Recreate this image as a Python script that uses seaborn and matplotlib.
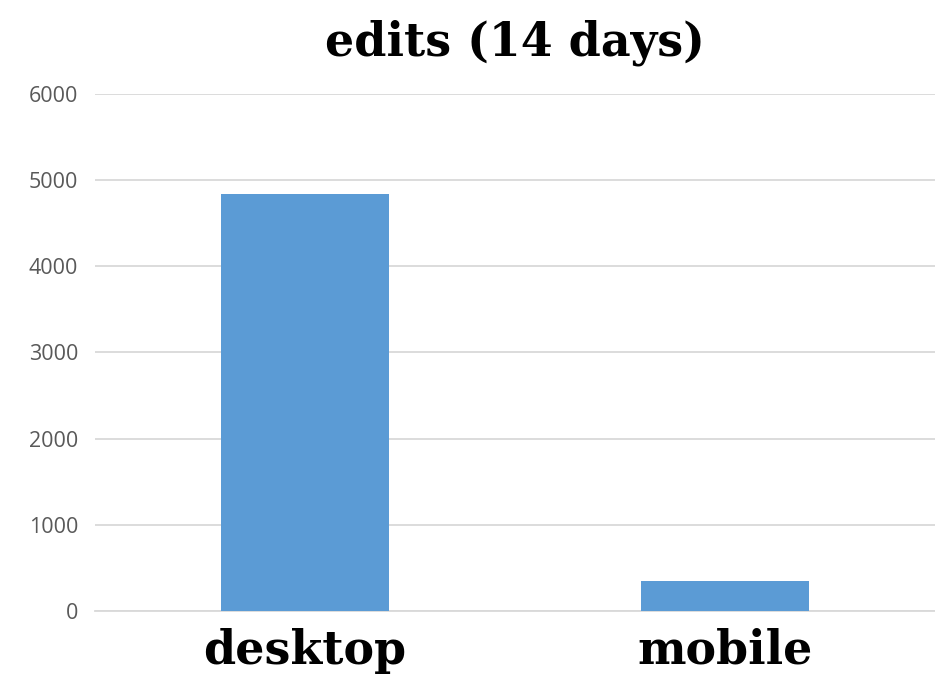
import matplotlib
matplotlib.use("Agg")
from matplotlib import pyplot as plt
import seaborn as sns

categories = ["desktop", "mobile"]
edits = [4840, 350]
yticks = [0, 1000, 2000, 3000, 4000, 5000, 6000]

sns.set_style("white")
plt.rcParams['font.family'] = ['Open Sans', 'DejaVu Sans']

fig = plt.figure(figsize=(9.35, 6.76), dpi=100)
ax = fig.add_axes([0.1016, 0.0962, 0.8984, 0.7648])

sns.barplot(x=categories, y=edits, color="#5B9BD5", width=0.4, saturation=1,
            linewidth=0, ax=ax, zorder=3)

ax.set_ylim(0, 6000)
ax.set_yticks(yticks)
ax.set_yticklabels([str(t) for t in yticks], color="#595959", fontsize=15.5)
ax.yaxis.grid(True, color="#d9d9d9", linewidth=1.3, zorder=0)
ax.tick_params(axis='y', length=0, pad=12)
ax.tick_params(axis='x', length=0, pad=12)
for lbl in ax.get_xticklabels():
    lbl.set_family('DejaVu Serif')
    lbl.set_fontweight('bold')
    lbl.set_fontsize(33)
    lbl.set_color('black')
for s in ["top", "right", "left"]:
    ax.spines[s].set_visible(False)
ax.spines["bottom"].set_color("#d9d9d9")
ax.spines["bottom"].set_linewidth(1.3)

ax.set_title("edits (14 days)", family="DejaVu Serif", fontweight="bold",
             fontsize=33, pad=28, color="black")

fig.savefig("out.png", dpi=100)
